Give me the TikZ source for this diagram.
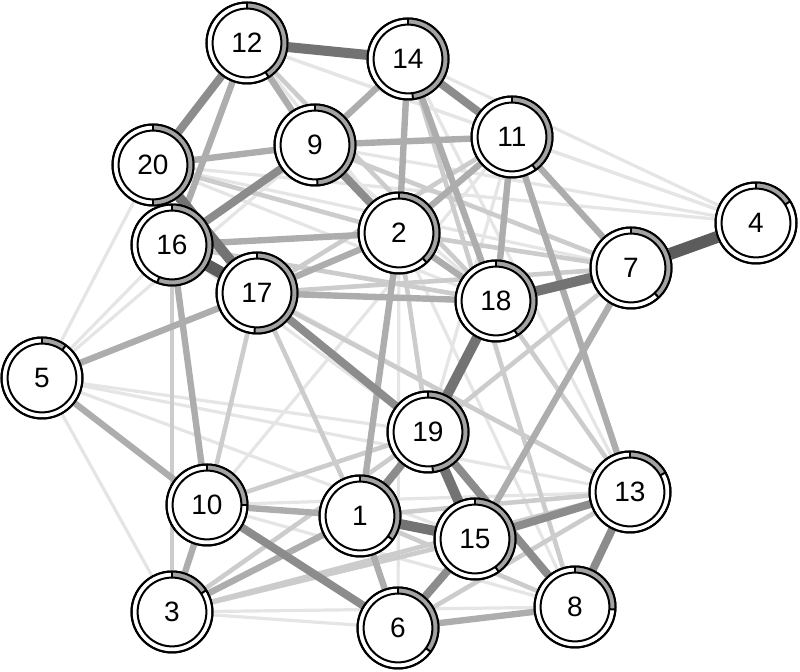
\documentclass[tikz,border=0pt]{standalone}
\usepackage{fontspec}
\setmainfont{Liberation Sans}
\usetikzlibrary{backgrounds}

\begin{document}
\begin{tikzpicture}[
  x=0.5pt, y=-0.5pt,
  vtx/.style={circle, draw, line width=1pt, fill=white, minimum size=40.5pt, inner sep=0pt, font=\fontsize{14}{16}\selectfont},
  ringarc/.style={line width=2.8pt, draw=black!36},
  e0/.style={line width=1.6pt, draw=black!10},
  e1/.style={line width=2.3pt, draw=black!20},
  e2/.style={line width=3.2pt, draw=black!32},
  e3/.style={line width=4pt, draw=black!45},
  e4/.style={line width=5pt, draw=black!55},
  e5/.style={line width=6pt, draw=black!64}
]
\useasboundingbox (0,0) rectangle (800,672);

% nodes: name / x / y / share of the ring
\foreach \n/\x/\y/\f in {1/360/516/0.35, 2/399/233/0.38, 3/172/612/0.16, 4/756/223/0.16,
    5/42/378/0.10, 6/398/628/0.35, 7/631/268/0.38, 8/575/607/0.26, 9/315/145/0.49,
    10/207/505/0.25, 11/512/137/0.40, 12/247/43/0.41, 13/630/492/0.17, 14/408/59/0.48,
    15/475/539/0.40, 16/172/245/0.56, 17/257/293/0.51, 18/496/301/0.41, 19/428/432/0.48,
    20/153/165/0.50}{
  \node[vtx] (n\n) at (\x,\y) {\n};
  \draw[ringarc] (n\n.center) ++(90:18.7pt) arc[start angle=90, delta angle=-360*\f, radius=18.7pt];
  \draw[line width=1pt] (n\n.center) circle[radius=17.2pt] (n\n.center) circle[radius=20.25pt];
  \draw[line width=1pt] ([shift={(90:17.2pt)}]n\n.center) -- ([shift={(90:20.25pt)}]n\n.center);
  \draw[line width=1pt] ([shift={({90-360*\f}:17.2pt)}]n\n.center) -- ([shift={({90-360*\f}:20.25pt)}]n\n.center);
}

\begin{scope}[on background layer]
\foreach \a/\b in {5/20, 5/16, 5/9, 5/3, 5/19, 5/13, 5/15, 14/4, 12/4, 9/4, 11/4, 20/4,
    10/13, 10/8, 3/6, 12/11, 12/2, 20/18, 9/18, 11/19, 2/6, 2/8, 14/13, 16/13, 20/7,
    11/10, 16/19, 3/8}
  \draw[e0] (n\a) -- (n\b);
\foreach \a/\b in {3/15, 3/19, 3/13, 10/19, 17/10, 17/1, 18/13, 7/19, 6/13, 1/8, 9/7,
    16/3, 2/7, 17/7, 11/17, 16/18, 17/13, 1/13, 20/2, 2/19, 14/8, 12/18}
  \draw[e1] (n\a) -- (n\b);
\foreach \a/\b in {14/9, 14/2, 14/18, 12/9, 12/16, 9/11, 16/10, 3/10, 6/1, 6/8, 7/11,
    11/2, 20/9, 2/1, 10/1, 3/1, 11/13, 7/15, 17/2, 16/2, 5/17, 5/10, 2/18, 17/18, 11/18}
  \draw[e2] (n\a) -- (n\b);
\foreach \a/\b in {10/6, 15/13, 13/8, 19/8, 17/19, 9/16, 12/20, 14/11, 9/2, 6/15, 19/1}
  \draw[e3] (n\a) -- (n\b);
\foreach \a/\b in {12/14, 18/7, 20/17, 19/15, 1/15, 19/18}
  \draw[e4] (n\a) -- (n\b);
\foreach \a/\b in {7/4, 16/17}
  \draw[e5] (n\a) -- (n\b);
\end{scope}
\end{tikzpicture}
\end{document}
